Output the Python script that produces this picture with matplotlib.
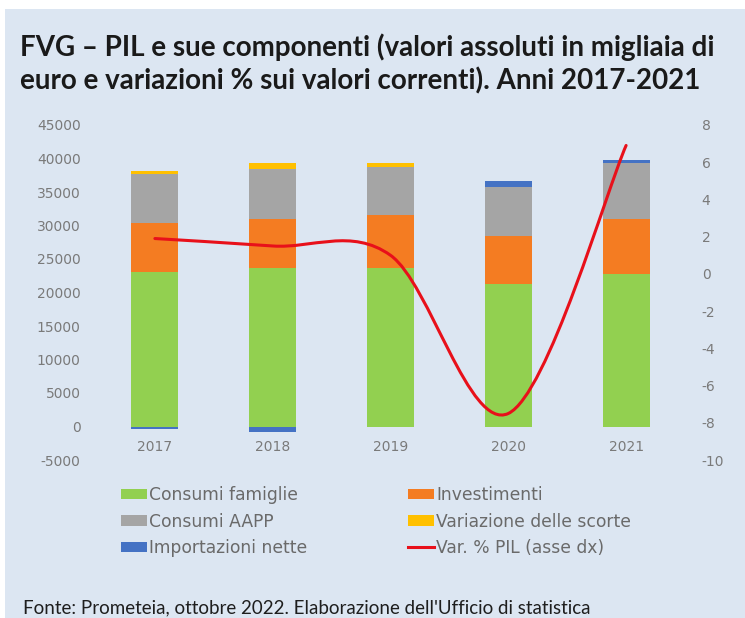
import matplotlib
matplotlib.use("Agg")
import matplotlib.pyplot as plt
from matplotlib.path import Path
from matplotlib.patches import PathPatch, Patch, Rectangle
from matplotlib.lines import Line2D
import numpy as np

years = ["2017", "2018", "2019", "2020", "2021"]
consumi_famiglie = [23000, 23600, 23700, 21200, 22700]
investimenti = [7300, 7400, 7800, 7200, 8300]
consumi_aapp = [7400, 7400, 7300, 7400, 8300]
variazione_scorte = [400, 1000, 600, 0, 0]
importazioni_nette = [-300, -750, -100, 900, 450]
var_pil = [1.9, 1.5, 1.0, -7.5, 6.9]

left_ticks = [-5000, 0, 5000, 10000, 15000, 20000, 25000, 30000, 35000, 40000, 45000]
right_ticks = [-10, -8, -6, -4, -2, 0, 2, 4, 6, 8]

BG = "#dce6f2"
C_GREEN = "#92d050"
C_ORANGE = "#f47c22"
C_GRAY = "#a5a5a5"
C_YELLOW = "#ffc000"
C_BLUE = "#4472c4"
C_RED = "#e8101a"
TICK_C = "#7a7a7a"

W, H = 745, 618
fig = plt.figure(figsize=(W / 100, H / 100), dpi=100)
fig.patch.set_facecolor("white")
fig.add_artist(Rectangle((5 / W, 0), 1 - 5 / W, (H - 9) / H, transform=fig.transFigure,
                         facecolor=BG, edgecolor="none", zorder=-10))

ax = fig.add_axes([96 / W, (H - 460) / H, (685 - 96) / W, (460 - 125) / H])
ax.set_facecolor("none")
x = np.arange(len(years))
bw = 0.40

series = [
    (consumi_famiglie, C_GREEN),
    (investimenti, C_ORANGE),
    (consumi_aapp, C_GRAY),
    (variazione_scorte, C_YELLOW),
    (importazioni_nette, C_BLUE),
]
pos_base = np.zeros(len(years))
neg_base = np.zeros(len(years))
for vals, col in series:
    v = np.array(vals, dtype=float)
    bottoms = np.where(v >= 0, pos_base, neg_base)
    ax.bar(x, v, bw, bottom=bottoms, color=col, edgecolor="none", zorder=2)
    pos_base = pos_base + np.where(v >= 0, v, 0)
    neg_base = neg_base + np.where(v < 0, v, 0)

ax.set_xlim(-0.5, len(years) - 0.5)
ax.set_ylim(-5000, 45000)
ax.set_yticks(left_ticks)
ax.set_yticklabels([str(t) for t in left_ticks])
ax.set_xticks(x)
ax.set_xticklabels(years)
ax.spines["bottom"].set_position(("data", 0))
for s in ax.spines.values():
    s.set_visible(False)
ax.tick_params(axis="both", length=0, colors=TICK_C, labelsize=10)
ax.tick_params(axis="x", pad=10)
ax.tick_params(axis="y", pad=11)

ax2 = ax.twinx()
ax2.set_ylim(-10, 8)
ax2.set_yticks(right_ticks)
ax2.set_yticklabels([str(t) for t in right_ticks])
for s in ax2.spines.values():
    s.set_visible(False)
ax2.tick_params(axis="y", length=0, colors=TICK_C, labelsize=10, pad=12)

# smoothed line (Catmull-Rom style Bezier, as Excel smoothing)
pts = np.column_stack([x, np.array(var_pil, dtype=float)])
n = len(pts)
verts = [tuple(pts[0])]
codes = [Path.MOVETO]
for i in range(n - 1):
    p0 = pts[max(i - 1, 0)]
    p1 = pts[i]
    p2 = pts[i + 1]
    p3 = pts[min(i + 2, n - 1)]
    c1 = p1 + (p2 - p0) / 6.0
    c2 = p2 - (p3 - p1) / 6.0
    verts += [tuple(c1), tuple(c2), tuple(p2)]
    codes += [Path.CURVE4] * 3
ax2.add_patch(PathPatch(Path(verts, codes), facecolor="none", edgecolor=C_RED,
                        lw=2.2, zorder=5, capstyle="round"))

handles = [
    Patch(facecolor=C_GREEN, edgecolor="none"),
    Patch(facecolor=C_GRAY, edgecolor="none"),
    Patch(facecolor=C_BLUE, edgecolor="none"),
    Patch(facecolor=C_ORANGE, edgecolor="none"),
    Patch(facecolor=C_YELLOW, edgecolor="none"),
    Line2D([0], [0], color=C_RED, lw=2.2),
]
labels = ["Consumi famiglie", "Consumi AAPP", "Importazioni nette",
          "Investimenti", "Variazione delle scorte", "Var. % PIL (asse dx)"]
leg = fig.legend(handles, labels, ncol=2, loc="upper left",
                 bbox_to_anchor=(121 / W, (H - 486) / H), frameon=False,
                 fontsize=12.3, handlelength=1.5, handleheight=0.6,
                 handletextpad=0.12, columnspacing=5.95, labelspacing=0.5,
                 borderpad=0, borderaxespad=0)
for t in leg.get_texts():
    t.set_color("#6a6a6a")

fig.text(20 / W, (H - 47) / H, "FVG – PIL e sue componenti (valori assoluti in migliaia di",
         fontsize=20, fontweight="bold", family="Lato", color="#1a1a1a", va="center", ha="left")
fig.text(20 / W, (H - 81) / H, "euro e variazioni % sui valori correnti). Anni 2017-2021",
         fontsize=20, fontweight="bold", family="Lato", color="#1a1a1a", va="center", ha="left")
fig.text(23 / W, (H - 613) / H, "Fonte: Prometeia, ottobre 2022. Elaborazione dell'Ufficio di statistica",
         fontsize=13.5, family="Lato", color="#1e1e1e", va="baseline", ha="left")

fig.savefig("out.png", dpi=100, facecolor=fig.get_facecolor())
